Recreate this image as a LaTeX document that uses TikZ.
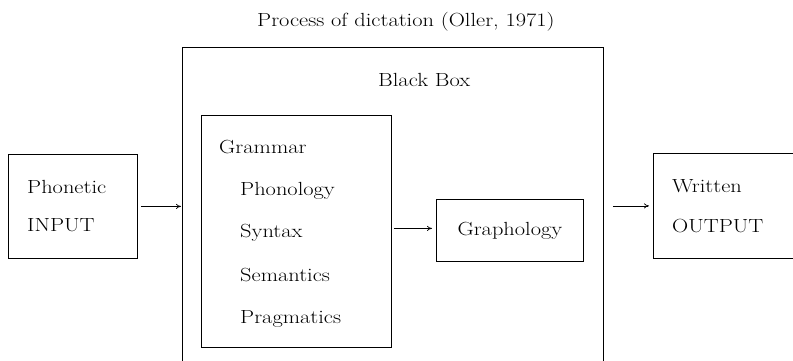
\documentclass[tikz,border=0pt]{standalone}
\usepackage{fontspec}
\setmainfont{Latin Modern Roman}[FakeStretch=1.18]
\usepackage{tikz}
\usetikzlibrary{positioning, calc, arrows.meta}

\tikzset{
  box/.style={draw, line width=0.8pt, inner sep=0pt, anchor=north west},
  txt/.style={anchor=base west, inner sep=0pt, font=\fontsize{19}{23}\selectfont},
  arr/.style={-{To[length=5pt,width=5pt]}, line width=0.7pt}
}

\begin{document}
\begin{tikzpicture}[x=1pt,y=-1pt]
    \useasboundingbox (0,0) rectangle (793,361);
    \clip (0,0) rectangle (793,361);
    % frames
    \node[box, minimum width=421pt, minimum height=340pt](blackbox) at (182,47){};
    \node[box, minimum width=129pt, minimum height=104pt](input) at (8,154){};
    \node[box, minimum width=190pt, minimum height=232pt](grammar) at (201,115){};
    \node[box, minimum width=147pt, minimum height=62pt, font=\fontsize{19}{23}\selectfont](grapho) at (436,199){Graphology};
    \node[box, minimum width=160pt, minimum height=105pt](output) at (653,153){};
    % texts
    \node[txt](title) at (257,27){Process of dictation (Oller, 1971)};
    \node[txt](bblabel) at (378,87){Black Box};
    \node[txt](phon) at (27,193){Phonetic};
    \node[txt](inp) at (27,231){INPUT};
    \node[txt](writ) at (672,192){Written};
    \node[txt](outp) at (672,232){OUTPUT};
    \node[txt](gram) at (219,153){Grammar};
    \node[txt](phono) at (240,195){Phonology};
    \node[txt](synt) at (240,237){Syntax};
    \node[txt](sema) at (240,281){Semantics};
    \node[txt](prag) at (240,323){Pragmatics};
    % arrows
    \draw[arr, shorten <=3pt, shorten >=1pt](input.east)--(input.east -| blackbox.west);
    \draw[arr, shorten <=2pt, shorten >=4pt]($(grammar.east)+(0,-3)$)--($(grammar.east -| grapho.west)+(0,-3)$);
    \draw[arr, shorten <=9pt, shorten >=4pt](output.west -| blackbox.east)--(output.west);
  \end{tikzpicture}
\end{document}
